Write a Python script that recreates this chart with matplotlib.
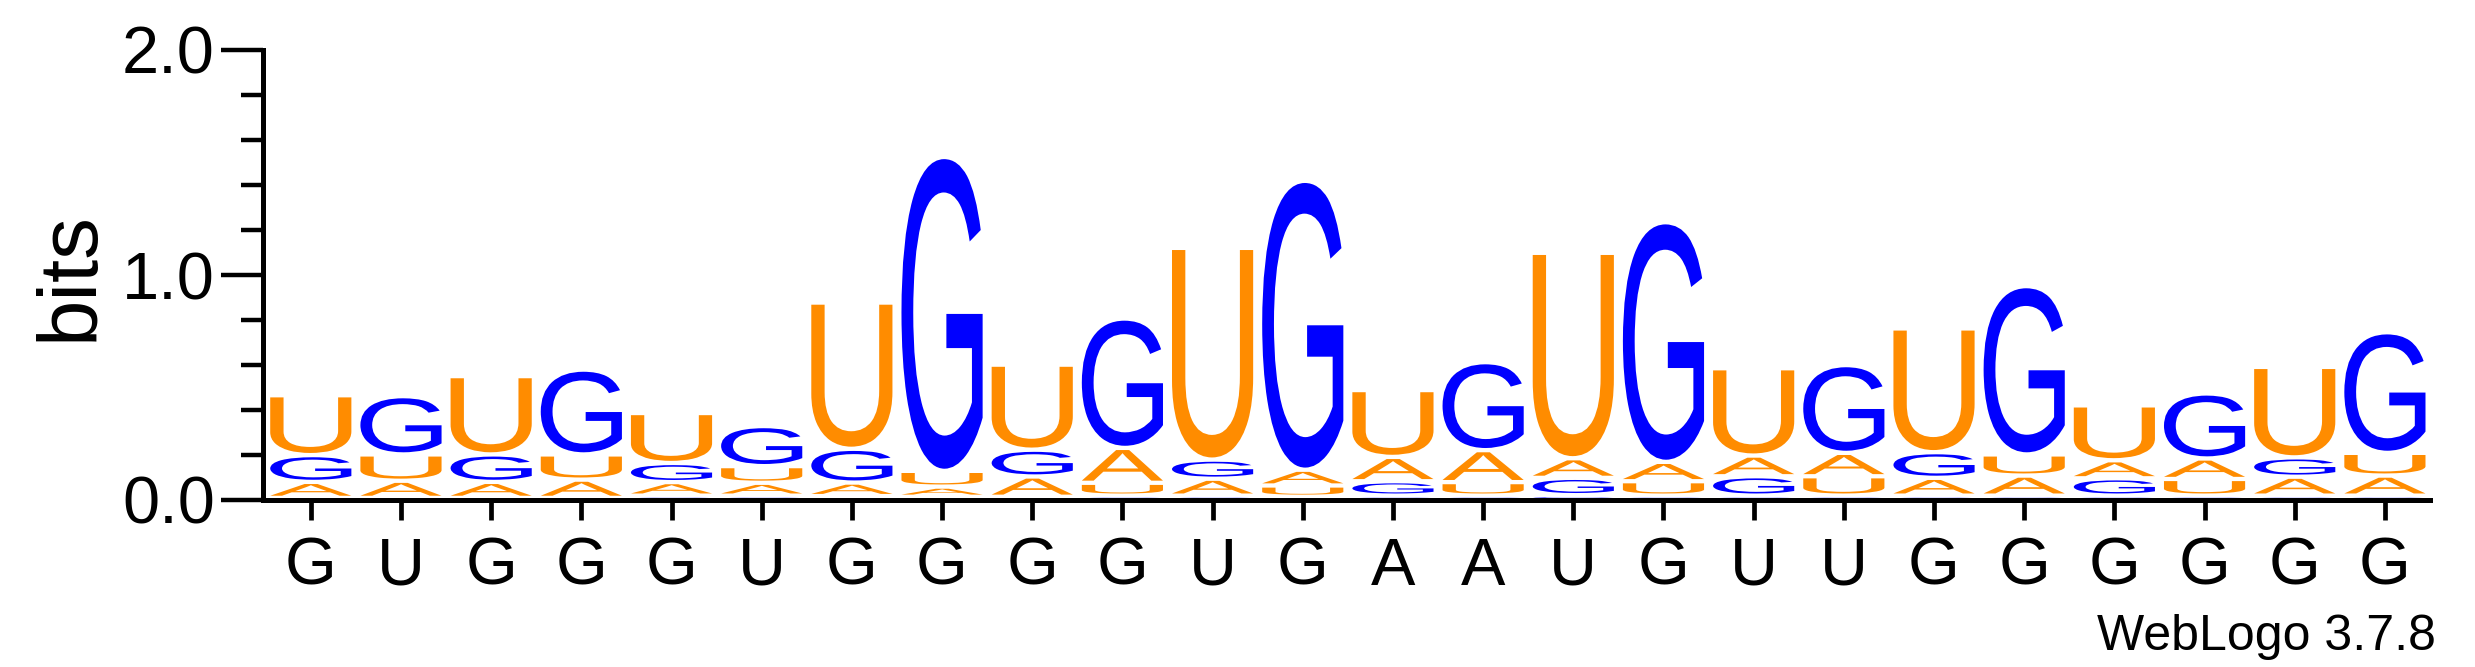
import matplotlib
matplotlib.use("Agg")
import matplotlib.pyplot as plt
from matplotlib.textpath import TextPath
from matplotlib.font_manager import FontProperties
from matplotlib.patches import PathPatch
from matplotlib.transforms import Affine2D

# columns of the logo and the sequence printed under them
positions = list(range(1, 25))
seq_labels = list("GUGGGUGGGGUGAAUGUUGGGGGG")

# information (bits) carried by each letter in each column
bits_A = [0.071, 0.076, 0.071, 0.081, 0.060, 0.057, 0.060, 0.045, 0.090, 0.155, 0.075, 0.070,
          0.108, 0.142, 0.087, 0.086, 0.092, 0.104, 0.079, 0.089, 0.080, 0.091, 0.084, 0.089]
bits_C = [0.0, 0.0, 0.0, 0.0, 0.010, 0.010, 0.008, 0.005, 0.005, 0.010, 0.010, 0.005,
          0.010, 0.010, 0.012, 0.010, 0.010, 0.010, 0.010, 0.010, 0.010, 0.010, 0.010, 0.010]
bits_G = [0.119, 0.259, 0.122, 0.377, 0.085, 0.178, 0.150, 1.395, 0.119, 0.575, 0.085, 1.284,
          0.064, 0.391, 0.077, 1.065, 0.086, 0.390, 0.114, 0.748, 0.077, 0.289, 0.086, 0.536]
bits_U = [0.266, 0.117, 0.348, 0.112, 0.222, 0.074, 0.650, 0.070, 0.378, 0.057, 0.941, 0.050,
          0.297, 0.060, 0.913, 0.064, 0.388, 0.086, 0.550, 0.094, 0.244, 0.074, 0.402, 0.101]

colors = {"A": "#ff8c00", "U": "#ff8c00", "G": "#0000ff", "C": "#0000ff"}
glyph_font = FontProperties(family="Liberation Sans")
plt.rcParams["font.family"] = ["Liberation Sans", "DejaVu Sans"]


def draw_letter(ax, ch, x, y0, h, width=0.9, pad=0.019):
    # stretch the glyph outline so it fills its box in the stack
    gap = min(pad, 0.45 * h)
    tp = TextPath((0, 0), ch, size=1, prop=glyph_font)
    bb = tp.get_extents()
    tr = (Affine2D()
          .translate(-bb.x0, -bb.y0)
          .scale(width / bb.width, (h - gap) / bb.height)
          .translate(x - width / 2, y0 + gap))
    ax.add_patch(PathPatch(tr.transform_path(tp), lw=0, fc=colors[ch]))


W, H = 2475, 667
fig = plt.figure(figsize=(W / 100, H / 100), dpi=100)
ax = fig.add_axes([263 / W, 1 - 500 / H, 2167 / W, 450 / H])

for i, pos in enumerate(positions):
    stack = [("A", bits_A[i]), ("C", bits_C[i]), ("G", bits_G[i]), ("U", bits_U[i])]
    stack.sort(key=lambda s: s[1])
    y = 0.0
    for ch, h in stack:
        if h <= 0:
            continue
        draw_letter(ax, ch, pos, y, h)
        y += h

ax.set_xlim(0.47, 24.5)
ax.set_ylim(0, 2.0)

for side in ["top", "right"]:
    ax.spines[side].set_visible(False)
ax.spines["left"].set_linewidth(3.6)
ax.spines["bottom"].set_linewidth(3.6)
ax.spines["left"].set_bounds(0, 2)
ax.spines["bottom"].set_bounds(0.5, 24.5)

ax.set_yticks([0, 1, 2])
ax.set_yticklabels(["0.0", "1.0", "2.0"], fontsize=48)
ax.set_yticks([0.2, 0.4, 0.6, 0.8, 1.2, 1.4, 1.6, 1.8], minor=True)
ax.tick_params(axis="y", which="major", length=30.6, width=3.2, pad=4)
ax.tick_params(axis="y", which="minor", length=15.8, width=3.2)

ax.set_xticks(positions)
ax.set_xticklabels(seq_labels, fontsize=48)
ax.tick_params(axis="x", which="major", length=14.4, width=3.4, pad=12)

fig.text(71 / W, 1 - 276 / H, "bits", rotation=90, ha="center", va="center", fontsize=60)
fig.text(2436 / W, 1 - 650 / H, "WebLogo 3.7.8", ha="right", va="baseline", fontsize=36)

fig.savefig("out.png", dpi=100)
